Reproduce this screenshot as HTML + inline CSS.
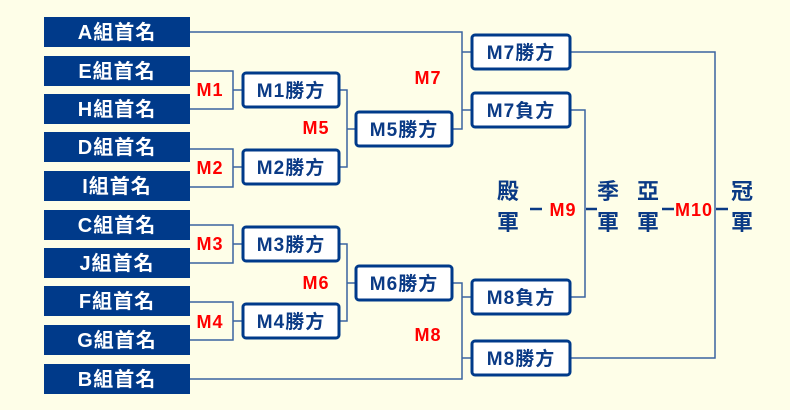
<!DOCTYPE html>
<html><head><meta charset="utf-8"><style>
html,body{margin:0;padding:0;background:#fefee8;}
svg{display:block;}
text{font-family:"Liberation Sans","Noto Sans CJK TC",sans-serif;font-weight:bold;}
.l{fill:#fff;font-size:20px;text-anchor:middle;letter-spacing:1px;}
.b{fill:#0a3a85;font-size:19px;text-anchor:middle;letter-spacing:1px;}
.r{fill:#f00;font-size:18px;text-anchor:middle;letter-spacing:1px;}
.v{fill:#0a3a85;font-size:22px;text-anchor:middle;}
</style></head><body>
<svg width="790" height="410" viewBox="0 0 790 410" xmlns="http://www.w3.org/2000/svg">
<rect width="790" height="410" fill="#fefee8"/>
<g fill="#003a8a">
<rect x="44" y="17" width="146" height="30"/>
<rect x="44" y="56" width="146" height="30"/>
<rect x="44" y="94" width="146" height="30"/>
<rect x="44" y="132" width="146" height="30"/>
<rect x="44" y="171" width="146" height="30"/>
<rect x="44" y="210" width="146" height="30"/>
<rect x="44" y="248" width="146" height="30"/>
<rect x="44" y="286" width="146" height="30"/>
<rect x="44" y="325" width="146" height="30"/>
<rect x="44" y="364" width="146" height="30"/>
</g>
<g>
<text class="l" x="117" y="39">A組首名</text>
<text class="l" x="117" y="78">E組首名</text>
<text class="l" x="117" y="116">H組首名</text>
<text class="l" x="117" y="154">D組首名</text>
<text class="l" x="117" y="193">I組首名</text>
<text class="l" x="117" y="232">C組首名</text>
<text class="l" x="117" y="270">J組首名</text>
<text class="l" x="117" y="308">F組首名</text>
<text class="l" x="117" y="347">G組首名</text>
<text class="l" x="117" y="386">B組首名</text>
</g>
<g fill="none" stroke="#3a64a0" stroke-width="1.5">
<polyline points="190,71 233,71 233,109 190,109"/>
<line x1="233" y1="90" x2="243" y2="90"/>
<polyline points="190,149 233,149 233,187 190,187"/>
<line x1="233" y1="167" x2="243" y2="167"/>
<polyline points="190,225 233,225 233,263 190,263"/>
<line x1="233" y1="244" x2="243" y2="244"/>
<polyline points="190,302 233,302 233,340 190,340"/>
<line x1="233" y1="321" x2="243" y2="321"/>
<polyline points="339,90 347,90 347,167 339,167"/>
<line x1="347" y1="129" x2="356" y2="129"/>
<polyline points="339,244 347,244 347,321 339,321"/>
<line x1="347" y1="283" x2="356" y2="283"/>
<polyline points="190,32 462,32 462,129 452,129"/>
<line x1="462" y1="52" x2="472" y2="52"/>
<line x1="462" y1="110" x2="472" y2="110"/>
<polyline points="190,379 462,379 462,283 452,283"/>
<line x1="462" y1="297" x2="472" y2="297"/>
<line x1="462" y1="358" x2="472" y2="358"/>
<polyline points="570,110 585,110 585,297 570,297"/>
<polyline points="570,52 715,52 715,358 570,358"/>
</g>
<g fill="#fff" stroke="#003a8a" stroke-width="3">
<rect x="243" y="73" width="96" height="34" rx="3"/>
<rect x="243" y="150" width="96" height="34" rx="3"/>
<rect x="243" y="227" width="96" height="34" rx="3"/>
<rect x="243" y="304" width="96" height="34" rx="3"/>
<rect x="356" y="112" width="96" height="34" rx="3"/>
<rect x="356" y="266" width="96" height="34" rx="3"/>
<rect x="472" y="35" width="98" height="34" rx="3"/>
<rect x="472" y="93" width="98" height="34" rx="3"/>
<rect x="472" y="280" width="98" height="34" rx="3"/>
<rect x="472" y="341" width="98" height="34" rx="3"/>
</g>
<g>
<text class="b" x="291" y="97">M1勝方</text>
<text class="b" x="291" y="174">M2勝方</text>
<text class="b" x="291" y="251">M3勝方</text>
<text class="b" x="291" y="328">M4勝方</text>
<text class="b" x="404" y="136">M5勝方</text>
<text class="b" x="404" y="290">M6勝方</text>
<text class="b" x="521" y="59">M7勝方</text>
<text class="b" x="521" y="117">M7負方</text>
<text class="b" x="521" y="304">M8負方</text>
<text class="b" x="521" y="365">M8勝方</text>
</g>
<g>
<text class="r" x="210" y="96">M1</text>
<text class="r" x="210" y="174">M2</text>
<text class="r" x="210" y="250">M3</text>
<text class="r" x="210" y="328">M4</text>
<text class="r" x="316" y="134">M5</text>
<text class="r" x="316" y="289">M6</text>
<text class="r" x="428" y="84">M7</text>
<text class="r" x="428" y="341">M8</text>
<text class="r" x="563" y="216">M9</text>
<text class="r" x="694" y="216">M10</text>
</g>
<g>
<text class="v" x="508" y="199">殿</text>
<text class="v" x="508" y="230">軍</text>
<text class="v" x="608" y="199">季</text>
<text class="v" x="608" y="230">軍</text>
<text class="v" x="648" y="199">亞</text>
<text class="v" x="648" y="230">軍</text>
<text class="v" x="742" y="199">冠</text>
<text class="v" x="742" y="230">軍</text>
</g>
<g stroke="#0a3a85" stroke-width="2.5">
<line x1="530" y1="209" x2="542" y2="209"/>
<line x1="586" y1="209" x2="597" y2="209"/>
<line x1="662" y1="209" x2="674" y2="209"/>
<line x1="716" y1="209" x2="728" y2="209"/>
</g>
</svg>
</body></html>
